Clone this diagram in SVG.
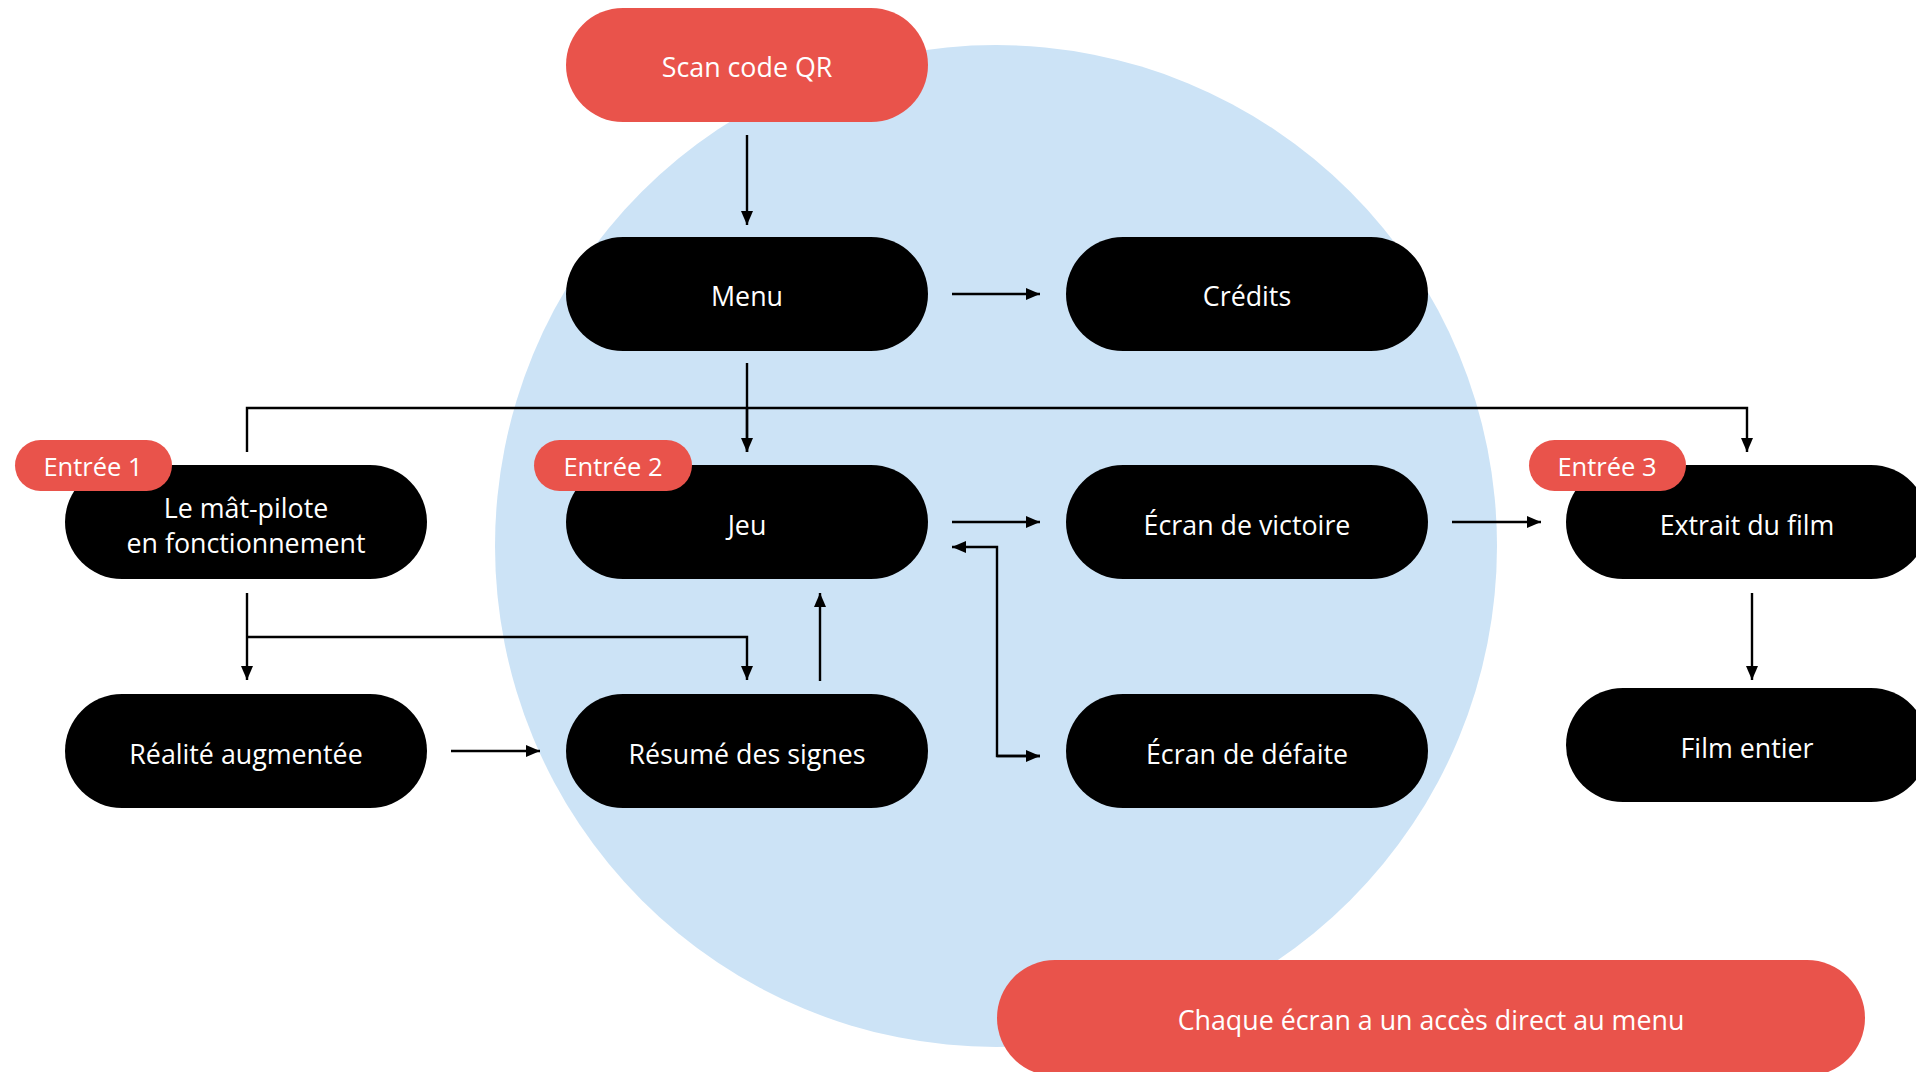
<svg xmlns="http://www.w3.org/2000/svg" width="1916" height="1072" viewBox="0 0 1916 1072">
<style>
.blk{fill:#000}
.red{fill:#E9534B}
.t{font-family:"Open Sans","Noto Sans",sans-serif;font-size:26.8px;fill:#fff;text-anchor:middle;dominant-baseline:central}
.b{font-family:"Open Sans","Noto Sans",sans-serif;font-size:25.5px;fill:#fff;text-anchor:middle;dominant-baseline:central}
.c{fill:none;stroke:#000;stroke-width:2.4}
</style>
<defs>
<marker id="ah" viewBox="0 0 14 12" refX="14" refY="6" markerWidth="14" markerHeight="12" markerUnits="userSpaceOnUse" orient="auto">
<path d="M0,0 L14,6 L0,12 z" fill="#000"/>
</marker>
</defs>
<rect width="1916" height="1072" fill="#fff"/>
<circle cx="996" cy="546" r="501" fill="#CCE3F6"/>

<g id="connectors">
<path class="c" d="M747,135 V225" marker-end="url(#ah)"/>
<path class="c" d="M952,294 H1040" marker-end="url(#ah)"/>
<path class="c" d="M747,363 V452" marker-end="url(#ah)"/>
<path class="c" d="M247,452 V408 H1747 V452" marker-end="url(#ah)"/>
<path class="c" d="M747,408 V452"/>
<path class="c" d="M247,593 V680" marker-end="url(#ah)"/>
<path class="c" d="M247,637 H747 V680" marker-end="url(#ah)"/>
<path class="c" d="M820,681 V593" marker-end="url(#ah)"/>
<path class="c" d="M451,751 H540" marker-end="url(#ah)"/>
<path class="c" d="M952,522 H1040" marker-end="url(#ah)"/>
<path class="c" d="M1040,756 H997 V547 H952" marker-end="url(#ah)"/>
<path class="c" d="M997,756 H1040" marker-end="url(#ah)"/>
<path class="c" d="M1452,522 H1541" marker-end="url(#ah)"/>
<path class="c" d="M1752,593 V680" marker-end="url(#ah)"/>
</g>

<g id="scan"><rect class="red" x="566" y="8" width="362" height="114" rx="57"/><text class="t" x="747" y="66">Scan code QR</text></g>
<g id="menu"><rect class="blk" x="566" y="237" width="362" height="114" rx="57"/><text class="t" x="747" y="295">Menu</text></g>
<g id="credits"><rect class="blk" x="1066" y="237" width="362" height="114" rx="57"/><text class="t" x="1247" y="295">Crédits</text></g>

<g id="matpilote"><rect class="blk" x="65" y="465" width="362" height="114" rx="57"/><text class="t" x="246" y="507">Le mât-pilote</text><text class="t" x="246" y="542">en fonctionnement</text></g>
<g id="jeu"><rect class="blk" x="566" y="465" width="362" height="114" rx="57"/><text class="t" x="747" y="524">Jeu</text></g>
<g id="victoire"><rect class="blk" x="1066" y="465" width="362" height="114" rx="57"/><text class="t" x="1247" y="524">Écran de victoire</text></g>
<g id="extrait"><rect class="blk" x="1566" y="465" width="362" height="114" rx="57"/><text class="t" x="1747" y="524">Extrait du film</text></g>

<g id="realite"><rect class="blk" x="65" y="694" width="362" height="114" rx="57"/><text class="t" x="246" y="753">Réalité augmentée</text></g>
<g id="resume"><rect class="blk" x="566" y="694" width="362" height="114" rx="57"/><text class="t" x="747" y="753">Résumé des signes</text></g>
<g id="defaite"><rect class="blk" x="1066" y="694" width="362" height="114" rx="57"/><text class="t" x="1247" y="753">Écran de défaite</text></g>
<g id="film"><rect class="blk" x="1566" y="688" width="362" height="114" rx="57"/><text class="t" x="1747" y="747">Film entier</text></g>

<g id="entree1"><rect class="red" x="15" y="440" width="157" height="51" rx="25.5"/><text class="b" x="93" y="466">Entrée 1</text></g>
<g id="entree2"><rect class="red" x="534" y="440" width="158" height="51" rx="25.5"/><text class="b" x="613" y="466">Entrée 2</text></g>
<g id="entree3"><rect class="red" x="1529" y="440" width="157" height="51" rx="25.5"/><text class="b" x="1607" y="466">Entrée 3</text></g>

<g id="note"><rect class="red" x="997" y="960" width="868" height="116" rx="58"/><text class="t" x="1431" y="1019">Chaque écran a un accès direct au menu</text></g>
</svg>
